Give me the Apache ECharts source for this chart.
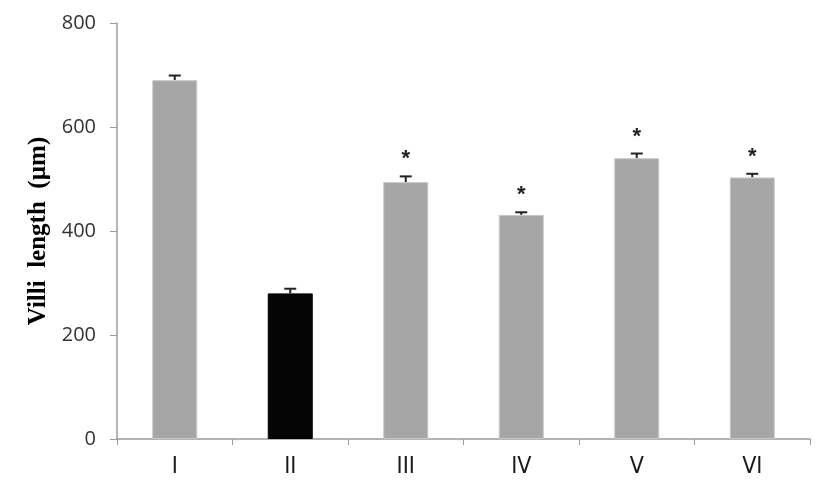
<!DOCTYPE html>
<html>
<head>
<meta charset="utf-8">
<script src="https://cdn.jsdelivr.net/npm/echarts@6/dist/echarts.min.js"></script>
<style>
  html, body { margin: 0; padding: 0; background: #fff; }
  #chart { width: 827px; height: 488px; }
</style>
</head>
<body>
<div id="chart"></div>
<script>
  var groups = ['I', 'II', 'III', 'IV', 'V', 'VI'];
  var villiLength = [690, 280, 494, 431, 540, 503];
  var errors = [9, 9, 11, 5, 9, 7];
  var marks = ['', '', '*', '*', '*', '*'];
  var yTicks = [0, 200, 400, 600, 800];

  var barColors = ['#a6a6a6', '#050505', '#a6a6a6', '#a6a6a6', '#a6a6a6', '#a6a6a6'];

  var chart = echarts.init(document.getElementById('chart'));

  var option = {
    animation: false,
    grid: { left: 117, right: 17, top: 23, bottom: 49 },
    xAxis: {
      type: 'category',
      data: groups,
      axisLine: { lineStyle: { color: '#9c9c9c', width: 1.5 } },
      axisTick: { show: true, length: 6, lineStyle: { color: '#9c9c9c' } },
      axisLabel: { margin: 17, fontSize: 23, color: '#1a1a1a', fontFamily: 'Liberation Sans Narrow, DejaVu Sans Condensed, sans-serif' }
    },
    yAxis: {
      type: 'value',
      min: yTicks[0],
      max: yTicks[yTicks.length - 1],
      interval: 200,
      name: 'Villi  length  (\u00b5m)',
      nameLocation: 'middle',
      nameGap: 66,
      nameTextStyle: { fontFamily: 'Liberation Serif', fontWeight: 'bold', fontSize: 25, color: '#000' },
      axisLine: { show: true, lineStyle: { color: '#9c9c9c', width: 1.5 } },
      axisTick: { show: true, length: 7, lineStyle: { color: '#9c9c9c' } },
      splitLine: { show: false },
      axisLabel: { margin: 21, fontSize: 20, color: '#333', fontFamily: 'Open Sans' }
    },
    series: [
      {
        type: 'bar',
        barWidth: 45,
        data: villiLength.map(function (v, i) {
          return { value: v, itemStyle: { color: barColors[i], borderColor: i === 1 ? '#000' : '#c8c8c8', borderWidth: 1 } };
        })
      },
      {
        type: 'custom',
        data: villiLength.map(function (v, i) { return [i, v, errors[i], marks[i]]; }),
        renderItem: function (params, api) {
          var x = api.value(0);
          var base = api.coord([x, api.value(1)]);
          var top = api.coord([x, api.value(1) + api.value(2)]);
          var style = { stroke: '#222', lineWidth: 2 };
          var children = [
            { type: 'line', shape: { x1: base[0], y1: base[1], x2: top[0], y2: top[1] }, style: style },
            { type: 'line', shape: { x1: top[0] - 6, y1: top[1], x2: top[0] + 6, y2: top[1] }, style: style }
          ];
          if (marks[params.dataIndex]) {
            children.push({
              type: 'text',
              style: {
                text: marks[params.dataIndex],
                x: top[0], y: top[1] - 6,
                align: 'center', verticalAlign: 'bottom',
                fontSize: 22, fontWeight: 'bold', fontFamily: 'Liberation Sans', fill: '#222'
              }
            });
          }
          return { type: 'group', children: children };
        }
      }
    ]
  };

  chart.setOption(option);
</script>
</body>
</html>
